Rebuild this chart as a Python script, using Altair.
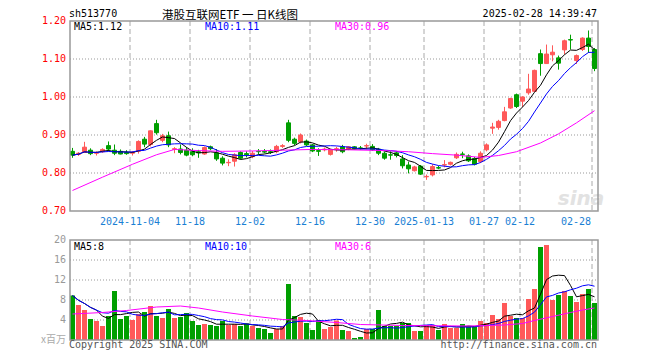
import math
import altair as alt
import numpy as np
import pandas as pd

# ---------------- data ----------------
open_p = [0.857, 0.849, 0.854, 0.860, 0.852, 0.856, 0.872, 0.860, 0.857, 0.854,
          0.852, 0.857, 0.889, 0.875, 0.930, 0.886, 0.898, 0.862, 0.863, 0.860,
          0.856, 0.856, 0.850, 0.869, 0.853, 0.839, 0.827, 0.831, 0.854, 0.851,
          0.843, 0.857, 0.857, 0.856, 0.856, 0.870, 0.932, 0.889, 0.882, 0.884,
          0.874, 0.859, 0.861, 0.849, 0.862, 0.869, 0.863, 0.869, 0.866, 0.871,
          0.870, 0.863, 0.852, 0.848, 0.853, 0.837, 0.821, 0.806, 0.818, 0.790,
          0.795, 0.814, 0.821, 0.823, 0.840, 0.850, 0.845, 0.838, 0.830, 0.861,
          0.918, 0.920, 0.938, 0.971, 1.006, 0.989, 1.011, 1.015, 1.114, 1.088,
          1.111, 1.103, 1.124, 1.151, 1.096, 1.125, 1.155, 1.125]
high_p = [0.866, 0.855, 0.882, 0.865, 0.857, 0.865, 0.883, 0.875, 0.862, 0.860,
          0.858, 0.886, 0.895, 0.912, 0.940, 0.903, 0.909, 0.868, 0.875, 0.868,
          0.865, 0.861, 0.870, 0.872, 0.863, 0.844, 0.836, 0.852, 0.857, 0.857,
          0.858, 0.863, 0.863, 0.862, 0.874, 0.876, 0.940, 0.893, 0.904, 0.888,
          0.876, 0.865, 0.867, 0.864, 0.869, 0.874, 0.871, 0.871, 0.871, 0.877,
          0.876, 0.866, 0.856, 0.857, 0.857, 0.847, 0.830, 0.819, 0.821, 0.796,
          0.823, 0.819, 0.834, 0.830, 0.854, 0.856, 0.849, 0.842, 0.857, 0.878,
          0.932, 0.940, 0.974, 0.998, 1.009, 1.002, 1.061, 1.072, 1.125, 1.138,
          1.136, 1.109, 1.151, 1.164, 1.112, 1.157, 1.175, 1.129]
low_p = [0.840, 0.845, 0.853, 0.847, 0.846, 0.853, 0.857, 0.847, 0.849, 0.848,
         0.846, 0.851, 0.868, 0.870, 0.901, 0.881, 0.868, 0.852, 0.849, 0.844,
         0.844, 0.840, 0.848, 0.860, 0.832, 0.820, 0.818, 0.817, 0.836, 0.841,
         0.839, 0.849, 0.852, 0.850, 0.852, 0.866, 0.881, 0.873, 0.878, 0.871,
         0.855, 0.845, 0.857, 0.846, 0.856, 0.852, 0.860, 0.862, 0.862, 0.862,
         0.858, 0.847, 0.835, 0.835, 0.841, 0.812, 0.799, 0.804, 0.795, 0.782,
         0.791, 0.810, 0.815, 0.820, 0.837, 0.839, 0.829, 0.820, 0.826, 0.857,
         0.903, 0.914, 0.936, 0.969, 0.971, 0.974, 1.006, 1.013, 1.056, 1.087,
         1.094, 1.072, 1.112, 1.125, 1.087, 1.121, 1.116, 1.068]
close_p = [0.847, 0.852, 0.868, 0.851, 0.853, 0.862, 0.863, 0.852, 0.850, 0.851,
           0.854, 0.883, 0.876, 0.911, 0.906, 0.898, 0.874, 0.864, 0.854, 0.847,
           0.848, 0.853, 0.867, 0.864, 0.837, 0.826, 0.828, 0.848, 0.839, 0.848,
           0.852, 0.856, 0.855, 0.854, 0.870, 0.872, 0.886, 0.878, 0.900, 0.874,
           0.858, 0.857, 0.863, 0.861, 0.864, 0.856, 0.869, 0.864, 0.865, 0.872,
           0.861, 0.852, 0.839, 0.847, 0.846, 0.819, 0.811, 0.816, 0.797, 0.791,
           0.817, 0.813, 0.822, 0.828, 0.849, 0.849, 0.832, 0.823, 0.852, 0.874,
           0.921, 0.936, 0.961, 0.996, 0.975, 1.000, 1.021, 1.070, 1.088, 1.113,
           1.118, 1.089, 1.148, 1.150, 1.109, 1.155, 1.133, 1.075]
direction = ["d", "u", "u", "d", "u", "u", "d", "d", "d", "d",
             "u", "u", "d", "u", "d", "u", "d", "u", "d", "d",
             "d", "d", "u", "d", "d", "d", "u", "u", "d", "d",
             "u", "d", "d", "d", "u", "u", "d", "d", "u", "d",
             "d", "d", "u", "u", "u", "d", "u", "d", "d", "u",
             "d", "d", "d", "d", "d", "d", "d", "u", "d", "u",
             "u", "d", "u", "u", "u", "d", "d", "d", "u", "u",
             "u", "u", "u", "u", "d", "u", "u", "u", "d", "u",
             "u", "d", "u", "d", "u", "u", "d", "d"]
volume = [8.9, 7.0, 6.0, 4.2, 3.8, 2.8, 4.8, 9.8, 4.2, 4.8,
          4.0, 5.2, 5.6, 6.8, 4.8, 4.4, 6.2, 4.4, 4.6, 5.4,
          3.8, 3.0, 3.2, 3.0, 2.8, 3.8, 3.0, 3.2, 2.8, 3.3,
          2.8, 2.4, 2.2, 1.4, 2.2, 2.8, 11.2, 4.8, 4.6, 3.4,
          2.0, 4.0, 2.2, 2.6, 3.9, 2.0, 1.8, 0.4, 0.6, 2.2,
          2.2, 6.0, 2.8, 2.8, 2.8, 3.4, 3.4, 1.8, 1.8, 3.0,
          3.0, 2.0, 3.2, 2.4, 2.4, 3.2, 2.8, 2.6, 3.8, 3.4,
          5.0, 4.2, 7.4, 4.8, 4.4, 4.4, 8.2, 10.2, 18.6, 19.0,
          8.0, 9.0, 9.8, 8.8, 7.6, 9.2, 10.2, 7.4]

# MA30 lines (the window before the first candle is not shown)
ma30_day = [0, 5, 10, 14, 17, 21, 25, 30, 35, 40, 46, 52, 56, 60, 64, 68, 71, 74, 78, 81, 84, 87]
ma30_val = [0.754, 0.789, 0.823, 0.848, 0.862, 0.859, 0.857, 0.858, 0.860, 0.862, 0.861,
            0.859, 0.856, 0.851, 0.847, 0.841, 0.846, 0.856, 0.879, 0.903, 0.932, 0.964]
vma30_day = [0, 5, 9, 14, 18, 21, 25, 30, 35, 39, 44, 48, 55, 66, 72, 75, 77, 80, 83, 85, 87]
vma30_val = [5.2, 5.5, 5.9, 6.6, 6.8, 6.4, 5.6, 4.8, 4.1, 3.9, 3.5, 3.1, 2.9, 2.8, 3.0,
             3.3, 3.9, 4.7, 5.5, 6.0, 6.4]

grid_day = [10, 20, 30, 40, 50, 59, 69, 75, 87]
date_labels = ["2024-11-04", "11-18", "12-02", "12-16", "12-30",
               "2025-01-13", "01-27", "02-12", "02-28"]
price_ticks = [1.20, 1.10, 1.00, 0.90, 0.80, 0.70]
price_labels = ["1.20", "1.10", "1.00", "0.90", "0.80", "0.70"]
vol_ticks = [20, 16, 12, 8, 4]
vol_labels = ["20", "16", "12", "8", "4"]

code = "sh513770"
title = "港股互联网ETF 一 日K线图"
stamp = "2025-02-28 14:39:47"

# ---------------- styling / layout ----------------
RED, GREEN = "#ff5959", "#009f00"
MONO = "DejaVu Sans Mono"
CJK = "Noto Sans CJK SC"
W, H = 528, 319
PH = 190
VT, VB = 219, 319

n = len(close_p)
df = pd.DataFrame({"i": np.arange(n), "open": open_p, "high": high_p, "low": low_p,
                   "close": close_p, "volume": volume, "dir": direction})
df["xc"] = df["i"] + 0.417
df["bx0"] = df["xc"] - 0.333
df["bx1"] = df["xc"] + 0.333
df["vx0"] = df["xc"] - 0.42
df["vx1"] = df["xc"] + 0.42
df["zero"] = 0.0
df["ma5"] = df["close"].rolling(5, min_periods=1).mean()
df["ma10"] = df["close"].rolling(10, min_periods=1).mean()
df["vma5"] = df["volume"].rolling(5, min_periods=1).mean()
df["vma10"] = df["volume"].rolling(10, min_periods=1).mean()

ma30 = pd.DataFrame({"xc": np.array(ma30_day) + 0.417, "v": ma30_val})
vma30 = pd.DataFrame({"xc": np.array(vma30_day) + 0.417, "v": vma30_val})


def trunc(v, d):
    f = 10 ** d
    return math.floor(v * f + 1e-9) / f


X = alt.Scale(domain=[0, 88], nice=False, zero=False)
PY = alt.Scale(domain=[0.70, 1.20], range=[PH, 0], nice=False, zero=False)
VY = alt.Scale(domain=[0, 20], range=[VB, VT], nice=False, zero=False)
C = alt.Scale(domain=["u", "d"], range=[RED, GREEN])
one = pd.DataFrame({"k": [0]})

layers = []

# grids
gdf = pd.DataFrame({"day": grid_day})
for y0, y1 in [(0, PH), (VT, VB)]:
    layers.append(alt.Chart(gdf).mark_rule(color="#aaaaaa", strokeDash=[5, 3], strokeWidth=1).encode(
        x=alt.X("day:Q", scale=X, axis=None), y=alt.value(y0), y2=alt.value(y1)))
layers.append(alt.Chart(pd.DataFrame({"p": price_ticks[1:-1]})).mark_rule(
    color="#999999", strokeDash=[1, 2], strokeWidth=1).encode(
    y=alt.Y("p:Q", scale=PY, axis=None), x=alt.value(0), x2=alt.value(W)))
layers.append(alt.Chart(pd.DataFrame({"v": vol_ticks[1:]})).mark_rule(
    color="#999999", strokeDash=[1, 2], strokeWidth=1).encode(
    y=alt.Y("v:Q", scale=VY, axis=None), x=alt.value(0), x2=alt.value(W)))

# watermark
layers.append(alt.Chart(one).mark_text(text="sina", font="DejaVu Sans", fontSize=20, fontWeight="bold",
                                       fontStyle="italic", color="#e2e2e2", align="center",
                                       baseline="alphabetic").encode(x=alt.value(511), y=alt.value(184)))

# candles
layers.append(alt.Chart(df).mark_rule(strokeWidth=1).encode(
    x=alt.X("xc:Q", scale=X, axis=None),
    y=alt.Y("low:Q", scale=PY, axis=None), y2="high:Q",
    color=alt.Color("dir:N", scale=C, legend=None)))
layers.append(alt.Chart(df).mark_rect(strokeWidth=1).encode(
    x=alt.X("bx0:Q", scale=X, axis=None), x2="bx1:Q",
    y=alt.Y("open:Q", scale=PY, axis=None), y2="close:Q",
    fill=alt.Fill("dir:N", scale=C, legend=None),
    stroke=alt.Stroke("dir:N", scale=C, legend=None)))

# volume bars
layers.append(alt.Chart(df).mark_rect().encode(
    x=alt.X("vx0:Q", scale=X, axis=None), x2="vx1:Q",
    y=alt.Y("volume:Q", scale=VY, axis=None), y2="zero:Q",
    color=alt.Color("dir:N", scale=C, legend=None)))


def line(data, field, color, ys):
    return alt.Chart(data).mark_line(color=color, strokeWidth=1).encode(
        x=alt.X("xc:Q", scale=X, axis=None), y=alt.Y(f"{field}:Q", scale=ys, axis=None))


layers += [line(df, "ma5", "#000000", PY), line(df, "ma10", "#0000ff", PY), line(ma30, "v", "#ff00ff", PY),
           line(df, "vma5", "#000000", VY), line(df, "vma10", "#0000ff", VY), line(vma30, "v", "#ff00ff", VY)]

# borders
for y0, y1 in [(0, PH), (VT, VB)]:
    layers.append(alt.Chart(one).mark_rect(fill="transparent", stroke="#999999", strokeWidth=1.5).encode(
        x=alt.value(0), x2=alt.value(W), y=alt.value(y0), y2=alt.value(y1)))


def label(txt, x, y, color="#000000", size=10, align="left", font=MONO):
    return alt.Chart(one).mark_text(text=txt, align=align, baseline="alphabetic", font=font,
                                    fontSize=size, color=color).encode(x=alt.value(x), y=alt.value(y))


# axis labels
layers.append(alt.Chart(pd.DataFrame({"p": price_ticks, "t": price_labels})).mark_text(
    align="right", baseline="middle", font=MONO, fontSize=10, color="#ff0000").encode(
    x=alt.value(-4), y=alt.Y("p:Q", scale=PY, axis=None), text="t:N"))
layers.append(alt.Chart(pd.DataFrame({"v": vol_ticks, "t": vol_labels})).mark_text(
    align="right", baseline="middle", font=MONO, fontSize=10, color="#999999").encode(
    x=alt.value(-4), y=alt.Y("v:Q", scale=VY, axis=None), text="t:N"))
layers.append(alt.Chart(one).mark_text(text="x百万", align="right", baseline="middle", font=CJK,
                                       fontSize=10, color="#aaaaaa").encode(x=alt.value(-4), y=alt.value(VB)))
layers.append(alt.Chart(pd.DataFrame({"day": grid_day[:-1], "t": date_labels[:-1]})).mark_text(
    align="center", baseline="alphabetic", font=MONO, fontSize=10, color="#1a7fd4").encode(
    x=alt.X("day:Q", scale=X, axis=None), y=alt.value(204), text="t:N"))
layers.append(alt.Chart(pd.DataFrame({"day": grid_day[-1:], "t": date_labels[-1:]})).mark_text(
    align="right", baseline="alphabetic", font=MONO, fontSize=10, color="#1a7fd4", dx=-1).encode(
    x=alt.X("day:Q", scale=X, axis=None), y=alt.value(204), text="t:N"))

# header / footer / legends
layers += [
    label(code, -1, -4),
    label(title, 160, -1.8, size=11.5, align="center", font=CJK),
    label(stamp, 527, -4, align="right"),
    label(f"MA5:{trunc(df['ma5'].iloc[-1], 2):.2f}", 4, 9),
    label(f"MA10:{trunc(df['ma10'].iloc[-1], 2):.2f}", 135, 9, color="#0000ff"),
    label(f"MA30:{trunc(ma30_val[-1], 2):.2f}", 265, 9, color="#ff00ff"),
    label(f"MA5:{int(trunc(df['vma5'].iloc[-1], 0))}", 4, 229),
    label(f"MA10:{int(trunc(df['vma10'].iloc[-1], 0))}", 135, 229, color="#0000ff"),
    label(f"MA30:{int(trunc(vma30_val[-1], 0))}", 265, 229, color="#ff00ff"),
    label("Copyright 2025 SINA.COM", -1, 327, color="#555555"),
    label("http://finance.sina.com.cn", 527, 327, color="#555555", align="right"),
]

chart = alt.layer(*layers).resolve_scale(y="independent").properties(
    width=W, height=H,
    autosize=alt.AutoSizeParams(type="none"),
    padding={"left": 62, "top": 13, "right": 50, "bottom": 22},
    background="#ffffff",
).configure_view(strokeWidth=0)

chart.save("out.html", embed_options={"renderer": "svg", "actions": False})
